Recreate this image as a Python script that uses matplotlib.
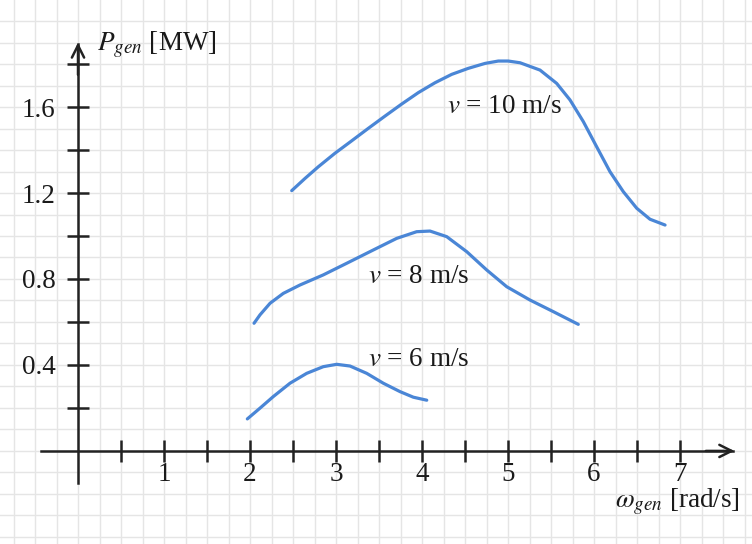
import numpy as np
import matplotlib
matplotlib.use("Agg")
import matplotlib.pyplot as plt

plt.rcParams['font.family'] = ['Liberation Serif', 'DejaVu Serif']
plt.rcParams['mathtext.fontset'] = 'stix'

# ---- data ----
w10 = [2.485, 2.640, 2.794, 2.988, 3.183, 3.376, 3.570, 3.764, 3.957, 4.151, 4.345, 4.538,
       4.733, 4.887, 5.003, 5.140, 5.372, 5.566, 5.721, 5.876, 6.031, 6.186, 6.341, 6.497,
       6.651, 6.826]
p10 = [1.211, 1.268, 1.322, 1.385, 1.443, 1.501, 1.558, 1.614, 1.667, 1.713, 1.752, 1.780,
       1.803, 1.814, 1.814, 1.806, 1.772, 1.710, 1.633, 1.532, 1.415, 1.299, 1.206, 1.129,
       1.078, 1.051]

w8 = [2.047, 2.116, 2.233, 2.387, 2.581, 2.852, 3.124, 3.434, 3.706, 3.938, 4.093, 4.287,
      4.520, 4.752, 4.985, 5.256, 5.527, 5.817]
p8 = [0.594, 0.633, 0.687, 0.733, 0.772, 0.819, 0.873, 0.935, 0.989, 1.020, 1.023, 0.997,
      0.927, 0.842, 0.764, 0.702, 0.648, 0.589]

w6 = [1.969, 2.116, 2.271, 2.465, 2.659, 2.852, 3.008, 3.163, 3.357, 3.550, 3.744, 3.899, 4.055]
p6 = [0.149, 0.199, 0.253, 0.315, 0.361, 0.392, 0.403, 0.395, 0.361, 0.315, 0.276, 0.250, 0.236]

curve_labels = ["10", "8", "6"]
x_ticks = [0.5, 1, 1.5, 2, 2.5, 3, 3.5, 4, 4.5, 5, 5.5, 6, 6.5, 7]
x_tick_labels = ["", "1", "", "2", "", "3", "", "4", "", "5", "", "6", "", "7"]
y_ticks = [0.2, 0.4, 0.6, 0.8, 1.0, 1.2, 1.4, 1.6, 1.8]
y_tick_labels = ["", "0.4", "", "0.8", "", "1.2", "", "1.6", ""]

line_color = "#4a86d6"
axis_color = "#222222"
grid_color = "#e5e5e5"
text_color = "#1a1a1a"

fig = plt.figure(figsize=(7.52, 5.44), dpi=100)
ax = fig.add_axes([0, 0, 1, 1])
ax.set_xlim(-0.907, 7.837)
ax.set_ylim(-0.433, 2.098)

# graph-paper grid
for gx in np.arange(-0.75, 7.9, 0.25):
    ax.axvline(gx, color=grid_color, lw=1.0, zorder=0)
for gy in np.arange(-0.4, 2.05, 0.1):
    ax.axhline(gy, color=grid_color, lw=1.0, zorder=0)

# axes through origin
for s in ['top', 'right']:
    ax.spines[s].set_visible(False)
ax.spines['left'].set_position(('data', 0))
ax.spines['bottom'].set_position(('data', 0))
ax.spines['left'].set_bounds(-0.147, 1.895)
ax.spines['bottom'].set_bounds(-0.43, 7.62)
for s in ['left', 'bottom']:
    ax.spines[s].set_color(axis_color)
    ax.spines[s].set_linewidth(1.8)
    ax.spines[s].set_zorder(3)

ax.set_xticks(x_ticks)
ax.set_xticklabels(x_tick_labels)
ax.set_yticks(y_ticks)
ax.set_yticklabels(y_tick_labels)
ax.tick_params(axis='both', direction='inout', length=16, width=1.8, color=axis_color,
               labelsize=19.5, labelcolor=text_color)
ax.tick_params(axis='x', pad=0)
ax.tick_params(axis='y', pad=8)

# arrowheads
ax.annotate('', xy=(7.632, 0), xytext=(7.3, 0),
            arrowprops=dict(arrowstyle='->', lw=1.8, color=axis_color,
                            mutation_scale=22, shrinkA=0, shrinkB=0), zorder=4)
ax.annotate('', xy=(0, 1.9), xytext=(0, 1.75),
            arrowprops=dict(arrowstyle='->', lw=1.8, color=axis_color,
                            mutation_scale=22, shrinkA=0, shrinkB=0), zorder=4)

# curves
for xs, ys in [(w10, p10), (w8, p8), (w6, p6)]:
    ax.plot(xs, ys, color=line_color, lw=2.3, solid_capstyle='round',
            solid_joinstyle='round', zorder=2)

# curve labels
label_pos = [(4.287, 1.572), (3.372, 0.783), (3.372, 0.397)]
for lab, (lx, ly) in zip(curve_labels, label_pos):
    ax.text(lx, ly, r"$v$" + " = " + lab + " m/s", fontsize=19.5, color=text_color,
            ha='left', va='baseline', zorder=5)

# axis titles
ax.text(0.22, 1.865, r"$P_{gen}$ [MW]", fontsize=19.5, color=text_color,
        ha='left', va='baseline')
ax.text(7.70, -0.265, r"$\omega_{gen}$ [rad/s]", fontsize=19.5, color=text_color,
        ha='right', va='baseline')

fig.savefig("out.png", dpi=100)
